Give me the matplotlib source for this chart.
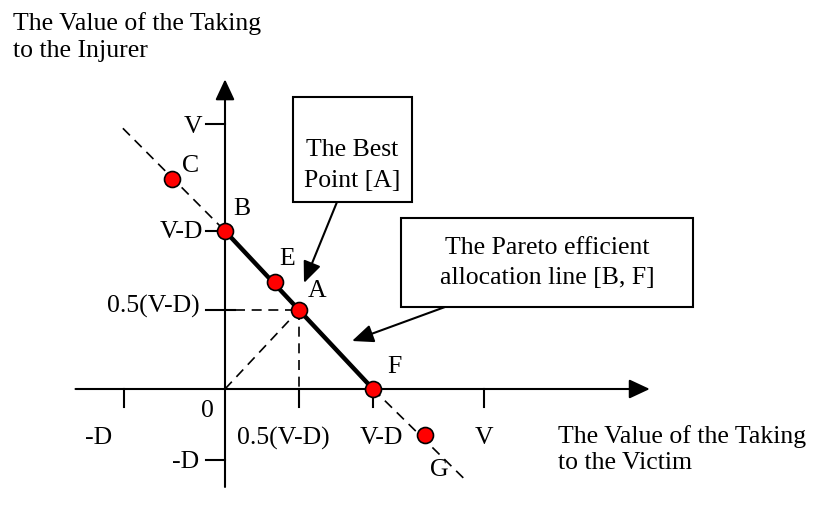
import matplotlib.pyplot as plt
from matplotlib.patches import Rectangle

plt.rcParams['font.family'] = ['Liberation Serif', 'DejaVu Serif']
FS = 18.5

# точки на линии распределения, в единицах (V-D)
names = ['C', 'B', 'E', 'A', 'F', 'G']
xs = [-0.36, 0.0, 0.34, 0.5, 1.0, 1.35]
ys = [1.33, 1.0, 0.68, 0.5, 0.0, -0.29]

# деления осей
x_ticks = [-0.68, 0.5, 1.0, 1.75]
x_tick_labels = ['-D', '0.5(V-D)', 'V-D', 'V']
y_ticks = [1.68, 1.0, 0.5, -0.45]
y_tick_labels = ['V', 'V-D', '0.5(V-D)', '-D']

# пунктирное продолжение линии за B и F
ext_x = [-0.69, 1.64]
ext_y = [1.65, -0.59]

W, H = 820, 515
fig = plt.figure(figsize=(W / 100, H / 100), dpi=100)
ax = fig.add_axes([0, 0, 1, 1])
ax.set_xlim(-225 / 148, (W - 225) / 148)
ax.set_ylim(-(H - 389) / 158, 389 / 158)
ax.axis('off')


def fp(px, py):
    # пиксели -> доли фигуры
    return px / W, 1 - py / H


arrow_kw = dict(arrowstyle='-|>,head_length=0.45,head_width=0.21', color='black',
                lw=1.5, mutation_scale=28, shrinkA=0, shrinkB=0)

# оси со стрелками
ax.annotate('', xy=(2.87, 0), xytext=(-1.01, 0), arrowprops=arrow_kw)
ax.annotate('', xy=(0, 1.96), xytext=(0, -0.62), arrowprops=arrow_kw)

# деления
tx = 18 / 158
for x in x_ticks:
    ax.plot([x, x], [0, -tx], color='black', lw=1.5)
ty = 19 / 148
for y in y_ticks:
    right = 0.07 if y == 0.5 else 0
    ax.plot([-ty, right], [y, y], color='black', lw=1.5)

# подписи делений
x_lab_px = [99, 283, 381, 484]
for lab, px in zip(x_tick_labels, x_lab_px):
    fig.text(*fp(px, 438), lab, fontsize=FS, ha='center', va='center')
y_lab_py = [127, 232, 306, 462]
y_lab_right = [202, 203, 200, 199]
for lab, py, px in zip(y_tick_labels, y_lab_py, y_lab_right):
    fig.text(*fp(px, py), lab, fontsize=FS, ha='right', va='center')
fig.text(*fp(207, 411), '0', fontsize=FS, ha='center', va='center')

# пунктирные линии
dash = dict(color='black', lw=1.2, dashes=(6, 4))
ax.plot([ext_x[0], xs[1]], [ext_y[0], ys[1]], **dash)
ax.plot([xs[4], ext_x[1]], [ys[4], ext_y[1]], **dash)
ax.plot([0, xs[3]], [0, ys[3]], **dash)
ax.plot([0.07, xs[3]], [ys[3], ys[3]], **dash)
ax.plot([xs[3], xs[3]], [ys[3], 0], **dash)

# эффективная по Парето линия [B, F]
ax.plot([xs[1], xs[4]], [ys[1], ys[4]], color='black', lw=3.2, solid_capstyle='butt')

ax.plot(xs, ys, 'o', color='red', markersize=11.5, markeredgecolor='black',
        markeredgewidth=1.2, zorder=5)

lab_px = [(191, 166), (242, 209), (287, 259), (317, 291), (394, 367), (439, 470)]
for name, (px, py) in zip(names, lab_px):
    fig.text(*fp(px, py), name, fontsize=FS, ha='center', va='center')

# подписи осей
fig.text(*fp(13, 30), 'The Value of the Taking', fontsize=FS, ha='left', va='baseline')
fig.text(*fp(13, 57), 'to the Injurer', fontsize=FS, ha='left', va='baseline')
fig.text(*fp(558, 443), 'The Value of the Taking', fontsize=FS, ha='left', va='baseline')
fig.text(*fp(558, 469), 'to the Victim', fontsize=FS, ha='left', va='baseline')

# рамки с пояснениями
for x0, y0, x1, y1 in [(293, 97, 412, 202), (401, 218, 693, 307)]:
    fig.patches.append(Rectangle(fp(x0, y1), (x1 - x0) / W, (y1 - y0) / H,
                                 transform=fig.transFigure, fill=False,
                                 edgecolor='black', lw=1.5))
fig.text(*fp(352, 150), 'The Best', fontsize=FS, ha='center', va='center')
fig.text(*fp(352, 181), 'Point [A]', fontsize=FS, ha='center', va='center')
fig.text(*fp(547, 248), 'The Pareto efficient', fontsize=FS, ha='center', va='center')
fig.text(*fp(547, 278), 'allocation line [B, F]', fontsize=FS, ha='center', va='center')

box_arrow = dict(arrowstyle='-|>,head_length=0.52,head_width=0.22', color='black',
                 lw=1.5, mutation_scale=25, shrinkA=0, shrinkB=0)
ax.annotate('', xy=fp(304, 283), xytext=fp(337, 202), xycoords='figure fraction',
            textcoords='figure fraction', arrowprops=box_arrow)
ax.annotate('', xy=fp(352, 341), xytext=fp(445, 307), xycoords='figure fraction',
            textcoords='figure fraction', arrowprops=box_arrow)

fig.savefig('out.png', dpi=100)
